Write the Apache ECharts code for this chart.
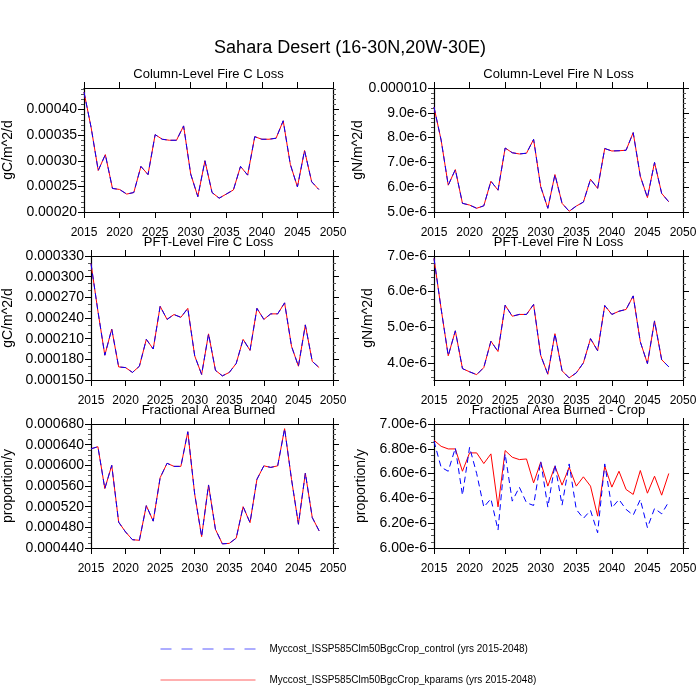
<!DOCTYPE html>
<html>
<head>
<meta charset="utf-8">
<script src="https://cdn.jsdelivr.net/npm/echarts@6/dist/echarts.min.js"></script>
<style>
  html, body { margin: 0; padding: 0; background: #fff; }
  #main { width: 700px; height: 700px; }
</style>
</head>
<body>
<div id="main"></div>
<script>
// years on the x axis
var years = [2015,2016,2017,2018,2019,2020,2021,2022,2023,2024,2025,2026,2027,2028,2029,2030,2031,
             2032,2033,2034,2035,2036,2037,2038,2039,2040,2041,2042,2043,2044,2045,2046,2047,2048];
var yearTicks = [2015,2020,2025,2030,2035,2040,2045,2050];

// Column-Level Fire C Loss (gC/m^2/d), both runs identical
var colFireC = [0.000434,0.000365,0.000281,0.000312,0.000246,0.000244,0.000235,0.000238,0.000289,0.000273,
                0.000351,0.000342,0.000340,0.000340,0.000368,0.000274,0.000230,0.000300,0.000238,0.000227,
                0.000235,0.000243,0.000289,0.000272,0.000347,0.000342,0.000342,0.000344,0.000378,0.000293,
                0.000249,0.000320,0.000259,0.000244];
// Column-Level Fire N Loss (gN/m^2/d)
var colFireN = [9.23e-6,7.90e-6,6.08e-6,6.71e-6,5.35e-6,5.28e-6,5.15e-6,5.25e-6,6.24e-6,5.88e-6,
                7.58e-6,7.39e-6,7.34e-6,7.37e-6,7.93e-6,6.02e-6,5.15e-6,6.51e-6,5.35e-6,5.03e-6,
                5.24e-6,5.40e-6,6.32e-6,5.95e-6,7.56e-6,7.46e-6,7.47e-6,7.49e-6,8.20e-6,6.44e-6,
                5.58e-6,7.00e-6,5.75e-6,5.41e-6];
// PFT-Level Fire C Loss (gC/m^2/d)
var pftFireC = [0.000319,0.000250,0.000186,0.000224,0.000169,0.000168,0.000161,0.000170,0.000209,0.000195,
                0.000257,0.000238,0.000245,0.000241,0.000254,0.000185,0.000158,0.000217,0.000164,0.000156,
                0.000161,0.000174,0.000209,0.000193,0.000254,0.000238,0.000246,0.000246,0.000262,0.000199,
                0.000170,0.000230,0.000177,0.000168];
// PFT-Level Fire N Loss (gN/m^2/d)
var pftFireN = [6.93e-6,5.52e-6,4.20e-6,4.90e-6,3.84e-6,3.75e-6,3.67e-6,3.87e-6,4.61e-6,4.32e-6,
                5.62e-6,5.31e-6,5.36e-6,5.36e-6,5.64e-6,4.21e-6,3.68e-6,4.82e-6,3.78e-6,3.58e-6,
                3.72e-6,4.00e-6,4.68e-6,4.34e-6,5.61e-6,5.36e-6,5.45e-6,5.50e-6,5.88e-6,4.59e-6,
                3.98e-6,5.18e-6,4.09e-6,3.89e-6];
// Fractional Area Burned (proportion/y)
var fracBurned = [0.000632,0.000636,0.000555,0.000600,0.000490,0.000471,0.000456,0.000455,0.000522,0.000492,
                  0.000576,0.000604,0.000598,0.000598,0.000665,0.000544,0.000462,0.000562,0.000476,0.000448,
                  0.000449,0.000459,0.000520,0.000489,0.000573,0.000599,0.000596,0.000599,0.000671,0.000573,
                  0.000486,0.000585,0.000499,0.000473];
// Fractional Area Burned - Crop (proportion/y), runs differ
var cropControl = [6.861e-6,6.651e-6,6.619e-6,6.807e-6,6.426e-6,6.812e-6,6.600e-6,6.330e-6,6.397e-6,6.145e-6,
                   6.759e-6,6.378e-6,6.490e-6,6.365e-6,6.343e-6,6.700e-6,6.330e-6,6.673e-6,6.346e-6,6.678e-6,
                   6.311e-6,6.239e-6,6.303e-6,6.123e-6,6.678e-6,6.324e-6,6.391e-6,6.311e-6,6.265e-6,6.391e-6,
                   6.164e-6,6.319e-6,6.276e-6,6.373e-6];
var cropKparams = [6.869e-6,6.820e-6,6.799e-6,6.799e-6,6.619e-6,6.767e-6,6.767e-6,6.681e-6,6.759e-6,6.332e-6,
                   6.786e-6,6.732e-6,6.713e-6,6.718e-6,6.525e-6,6.692e-6,6.499e-6,6.660e-6,6.507e-6,6.651e-6,
                   6.499e-6,6.574e-6,6.499e-6,6.257e-6,6.660e-6,6.491e-6,6.619e-6,6.472e-6,6.432e-6,6.625e-6,
                   6.442e-6,6.579e-6,6.426e-6,6.601e-6];

// y tick values per panel
var colFireCTicks = [0.00020,0.00025,0.00030,0.00035,0.00040];
var colFireNTicks = [5e-6,6e-6,7e-6,8e-6,9e-6,1e-5];
var pftFireCTicks = [0.000150,0.000180,0.000210,0.000240,0.000270,0.000300,0.000330];
var pftFireNTicks = [4e-6,5e-6,6e-6,7e-6];
var fracTicks = [0.000440,0.000480,0.000520,0.000560,0.000600,0.000640,0.000680];
var cropTicks = [6.0e-6,6.2e-6,6.4e-6,6.6e-6,6.8e-6,7.0e-6];

var nameCtl = 'Myccost_ISSP585Clm50BgcCrop_control (yrs 2015-2048)';
var nameKp = 'Myccost_ISSP585Clm50BgcCrop_kparams (yrs 2015-2048)';

function e6(d) { return function (v) { return (v * 1e6).toFixed(d) + 'e-6'; }; }
function fixed(d) { return function (v) { return v.toFixed(d); }; }

var panels = [
  { title: 'Column-Level Fire C Loss', unit: 'gC/m^2/d', ctl: colFireC, kp: colFireC,
    min: 0.0002, max: 0.000442, ticks: colFireCTicks, minor: 0.00001, fmt: fixed(5), gap: 69 },
  { title: 'Column-Level Fire N Loss', unit: 'gN/m^2/d', ctl: colFireN, kp: colFireN,
    min: 5e-6, max: 1e-5, ticks: colFireNTicks, minor: 0.2e-6,
    fmt: function (v) { return v > 9.99e-6 ? v.toFixed(6) : e6(1)(v); }, gap: 66 },
  { title: 'PFT-Level Fire C Loss', unit: 'gC/m^2/d', ctl: pftFireC, kp: pftFireC,
    min: 0.00015, max: 0.00033, ticks: pftFireCTicks, minor: 0.00001, fmt: fixed(6), gap: 76 },
  { title: 'PFT-Level Fire N Loss', unit: 'gN/m^2/d', ctl: pftFireN, kp: pftFireN,
    min: 3.52e-6, max: 7e-6, ticks: pftFireNTicks, minor: 0.2e-6, fmt: e6(1), gap: 59 },
  { title: 'Fractional Area Burned', unit: 'proportion/y', ctl: fracBurned, kp: fracBurned,
    min: 0.00044, max: 0.00068, ticks: fracTicks, minor: 0.00001, fmt: fixed(6), gap: 76 },
  { title: 'Fractional Area Burned - Crop', unit: 'proportion/y', ctl: cropControl, kp: cropKparams,
    min: 6e-6, max: 7e-6, ticks: cropTicks, minor: 0.05e-6, fmt: e6(2), gap: 66 }
];

function minorValues(p) {
  var out = [];
  var k = Math.ceil(p.min / p.minor - 1e-6);
  for (; k * p.minor <= p.max * (1 + 1e-9); k++) {
    var v = k * p.minor;
    var isMajor = p.ticks.some(function (m) { return Math.abs(m - v) < p.minor * 0.01; });
    if (!isMajor) out.push(v);
  }
  return out;
}

var lefts = [84, 434], tops = [88, 256, 424];
var gw = 249, gh = 124;
var font = 'Liberation Sans, Arial, Helvetica, sans-serif';
var black = '#000';

var grids = [], xAxes = [], yAxes = [], series = [];
var titles = [{
  text: 'Sahara Desert (16-30N,20W-30E)', left: 350, top: 39, textAlign: 'center', padding: 0,
  textStyle: { fontFamily: font, fontSize: 18, fontWeight: 'normal', color: black }
}];

panels.forEach(function (p, i) {
  var gl = lefts[i % 2], gt = tops[Math.floor(i / 2)];
  grids.push({ left: gl, top: gt, width: gw, height: gh, containLabel: false });
  titles.push({
    text: p.title, left: gl + gw / 2, top: gt - 20, textAlign: 'center', padding: 0,
    textStyle: { fontFamily: font, fontSize: 13, fontWeight: 'normal', color: black }
  });

  var xi = xAxes.length;
  xAxes.push({
    type: 'value', gridIndex: i, position: 'bottom', min: 2015, max: 2050, interval: 5,
    axisLine: { lineStyle: { color: black, width: 1.2 } },
    axisTick: { length: 6, lineStyle: { color: black } },
    axisLabel: { fontFamily: font, fontSize: 12, color: black, margin: 15,
                 customValues: yearTicks, formatter: function (v) { return String(v); } },
    splitLine: { show: false }
  });
  xAxes.push({
    type: 'value', gridIndex: i, position: 'top', min: 2015, max: 2050, interval: 5,
    axisLine: { lineStyle: { color: black, width: 1.2 } },
    axisTick: { length: 6, lineStyle: { color: black } },
    axisLabel: { show: false }, splitLine: { show: false }
  });

  var minors = minorValues(p);
  var yi = yAxes.length;
  ['left', 'right'].forEach(function (pos) {
    yAxes.push({
      type: 'value', gridIndex: i, position: pos, min: p.min, max: p.max,
      name: pos === 'left' ? p.unit : '', nameLocation: 'middle', nameGap: p.gap,
      nameTextStyle: { fontFamily: font, fontSize: 14, color: black },
      axisLine: { show: true, lineStyle: { color: black, width: 1.2 } },
      axisTick: { show: true, length: 6, lineStyle: { color: black }, customValues: p.ticks },
      axisLabel: { show: pos === 'left', fontFamily: font, fontSize: 14, color: black, margin: 7,
                   customValues: p.ticks, formatter: p.fmt },
      splitLine: { show: false }
    });
    yAxes.push({
      type: 'value', gridIndex: i, position: pos, min: p.min, max: p.max,
      axisLine: { show: false },
      axisTick: { show: true, length: 3, lineStyle: { color: '#555' }, customValues: minors },
      axisLabel: { show: false }, splitLine: { show: false }
    });
  });

  series.push({
    name: nameKp, type: 'line', xAxisIndex: xi, yAxisIndex: yi, symbol: 'none',
    lineStyle: { color: '#ff0000', width: 1 }, itemStyle: { color: '#ff0000' },
    data: years.map(function (y, k) { return [y, p.kp[k]]; }), animation: false
  });
  series.push({
    name: nameCtl, type: 'line', xAxisIndex: xi, yAxisIndex: yi, symbol: 'none',
    lineStyle: { color: '#0000ff', width: 1, type: [6, 4] }, itemStyle: { color: '#0000ff' },
    data: years.map(function (y, k) { return [y, p.ctl[k]]; }), animation: false
  });
});

var chart = echarts.init(document.getElementById('main'), null, { renderer: 'canvas' });
chart.setOption({
  backgroundColor: '#fff',
  animation: false,
  title: titles,
  grid: grids,
  xAxis: xAxes,
  yAxis: yAxes,
  legend: {
    orient: 'vertical', left: 160, top: 644, padding: 0, itemGap: 21,
    itemWidth: 95, itemHeight: 10,
    itemStyle: { opacity: 0 },
    lineStyle: { width: 1 },
    textStyle: { fontFamily: font, fontSize: 10, color: black, padding: [0, 0, 0, 9] },
    data: [
      { name: nameCtl, lineStyle: { type: [11, 10], width: 1, color: '#5a5aff' } },
      { name: nameKp, lineStyle: { width: 1, color: '#ff6060' } }
    ]
  },
  series: series
});
</script>
</body>
</html>
